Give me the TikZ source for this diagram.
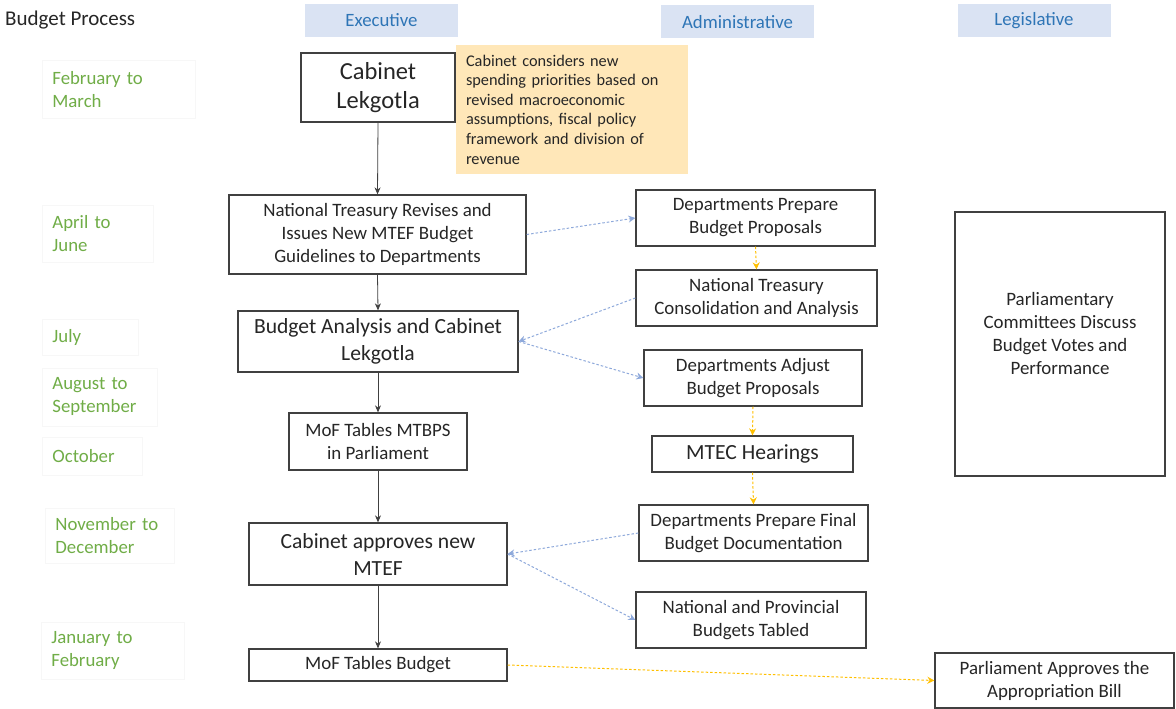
\documentclass[tikz,border=0pt]{standalone}
\usepackage{fontspec}
\setmainfont{Carlito}
\usetikzlibrary{arrows.meta}
\definecolor{monthgreen}{HTML}{70AD47}
\definecolor{headblue}{HTML}{2E75B6}
\definecolor{headfill}{HTML}{DAE3F3}
\definecolor{notefill}{HTML}{FFE7B8}
\definecolor{flowblue}{HTML}{8EA9DB}
\definecolor{floworange}{HTML}{FFC000}
\definecolor{boxline}{HTML}{404040}
\definecolor{ink}{HTML}{262626}
\begin{document}
\begin{tikzpicture}[x=1pt,y=-1pt,
  stepbox/.style={draw=boxline, line width=1.3pt, fill=white, align=center,
    inner sep=0pt, text=ink, font=\fontsize{18.9}{23}\selectfont},
  bigtext/.style={font=\fontsize{21.6}{27}\selectfont},
  headbox/.style={fill=headfill, inner sep=0pt, text=headblue,
    minimum width=153pt, minimum height=33pt, font=\fontsize{18.8}{23}\selectfont},
  monthbox/.style={draw=black!3, line width=0.8pt, anchor=north west, align=left,
    inner xsep=10pt, inner ysep=0pt, text=monthgreen, font=\fontsize{18.8}{23}\selectfont},
  notebox/.style={fill=notefill, inner sep=0pt, align=left, text=ink,
    font=\fontsize{16.3}{19.6}\selectfont},
  mainflow/.style={draw=boxline, line width=0.8pt, -{Stealth[length=7pt,width=6pt]}},
  sideflow/.style={draw=flowblue, line width=1pt, dash pattern=on 2.5pt off 2pt,
    -{Stealth[length=7pt,width=7pt]}},
  yellowflow/.style={draw=floworange, line width=1pt, dash pattern=on 2.5pt off 2pt,
    -{Stealth[length=7pt,width=7pt]}}
]
\useasboundingbox (0,0) rectangle (1176,709);
\fill[white] (0,0) rectangle (1176,709);

% title and column headings
\node[anchor=west, inner sep=0pt, text=ink, font=\fontsize{21}{25}\selectfont] (title) at (5,20) {Budget Process};
\node[headbox] (hexec) at (381.5,20.5) {Executive};
\node[headbox] (hadmin) at (737.5,22) {Administrative};
\node[headbox] (hleg) at (1034,20.5) {Legislative};

% time periods
\node[monthbox, minimum width=153pt, minimum height=58pt, text width=133pt] (m1) at (42,60) {February to\\March};
\node[monthbox, minimum width=111pt, minimum height=57pt, text width=91pt] (m2) at (42,205) {April to\\June};
\node[monthbox, minimum width=96pt, minimum height=36pt, text width=76pt] (m3) at (42,319) {July};
\node[monthbox, minimum width=115pt, minimum height=58pt, text width=95pt] (m4) at (42,367.5) {August to\\September};
\node[monthbox, minimum width=100pt, minimum height=38pt, text width=80pt] (m5) at (42,437) {October};
\node[monthbox, minimum width=129pt, minimum height=55pt, text width=109pt] (m6) at (45,508) {November to\\December};
\node[monthbox, minimum width=143pt, minimum height=57pt, text width=123pt] (m7) at (41,622) {January to\\February};

% executive column
\node[stepbox, font=\fontsize{24.5}{29}\selectfont, minimum width=154pt, minimum height=69pt] (cl) at (378,87.5) {Cabinet\\Lekgotla};
\node[notebox, minimum width=232pt, minimum height=129pt, text width=212pt] (note) at (572,109.5)
  {Cabinet considers new\\spending priorities based on\\revised macroeconomic\\assumptions, fiscal policy\\framework and division of\\revenue};
\node[stepbox, minimum width=297pt, minimum height=79pt] (ntr) at (377.5,234.5) {National Treasury Revises and\\Issues New MTEF Budget\\Guidelines to Departments};
\node[stepbox, bigtext, minimum width=280pt, minimum height=61pt] (ba) at (378,341.5) {Budget Analysis and Cabinet\\Lekgotla};
\node[stepbox, minimum width=178pt, minimum height=57pt] (mtbps) at (378,441.5) {MoF Tables MTBPS\\in Parliament};
\node[stepbox, bigtext, minimum width=258pt, minimum height=62pt] (cab) at (378,554) {Cabinet approves new\\MTEF};
\node[stepbox, minimum width=258pt, minimum height=32pt] (mof) at (378,665) {MoF Tables Budget};

% administrative column
\node[stepbox, minimum width=239pt, minimum height=56pt] (dpp) at (755.5,218) {Departments Prepare\\Budget Proposals};
\node[stepbox, minimum width=241pt, minimum height=56pt] (ntc) at (756.5,298) {National Treasury\\Consolidation and Analysis};
\node[stepbox, minimum width=218pt, minimum height=56pt] (dab) at (753,378) {Departments Adjust\\Budget Proposals};
\node[stepbox, bigtext, minimum width=201pt, minimum height=36pt] (mtec) at (752.5,454) {MTEC Hearings};
\node[stepbox, minimum width=229pt, minimum height=56pt] (dpf) at (753.5,533) {Departments Prepare Final\\Budget Documentation};
\node[stepbox, minimum width=230pt, minimum height=56pt] (nap) at (751,620) {National and Provincial\\Budgets Tabled};

% legislative column (text block sits a little above the middle)
\node[stepbox, minimum width=210pt, minimum height=264pt] (pcd) at (1060,344) {Parliamentary\\Committees Discuss\\Budget Votes and\\Performance\\[-1pt]\mbox{}};
\node[stepbox, minimum width=239pt, minimum height=55pt] (pab) at (1054.5,680.5) {Parliament Approves the\\Appropriation Bill};

% executive sequence
\draw[mainflow] (cl.south) -- (ntr.north);
\draw[mainflow] (ntr.south) -- (ba.north);
\draw[mainflow] (ba.south) -- (mtbps.north);
\draw[mainflow] (mtbps.south) -- (cab.north);
\draw[mainflow] (cab.south) -- (mof.north);

% exchanges with departments
\draw[sideflow] (ntr.east) -- (dpp.west);
\draw[sideflow] (ntc.west) -- (ba.east);
\draw[sideflow] (ba.east) -- (dab.west);
\draw[sideflow] (dpf.west) -- (cab.east);
\draw[sideflow] (cab.east) -- (nap.west);

% administrative sequence and hand-over to parliament
\draw[yellowflow] (dpp.south) -- (ntc.north);
\draw[yellowflow] (dab.south) -- (mtec.north);
\draw[yellowflow] (mtec.south) -- (dpf.north);
\draw[yellowflow] (mof.east) -- (pab.west);
\end{tikzpicture}
\end{document}
